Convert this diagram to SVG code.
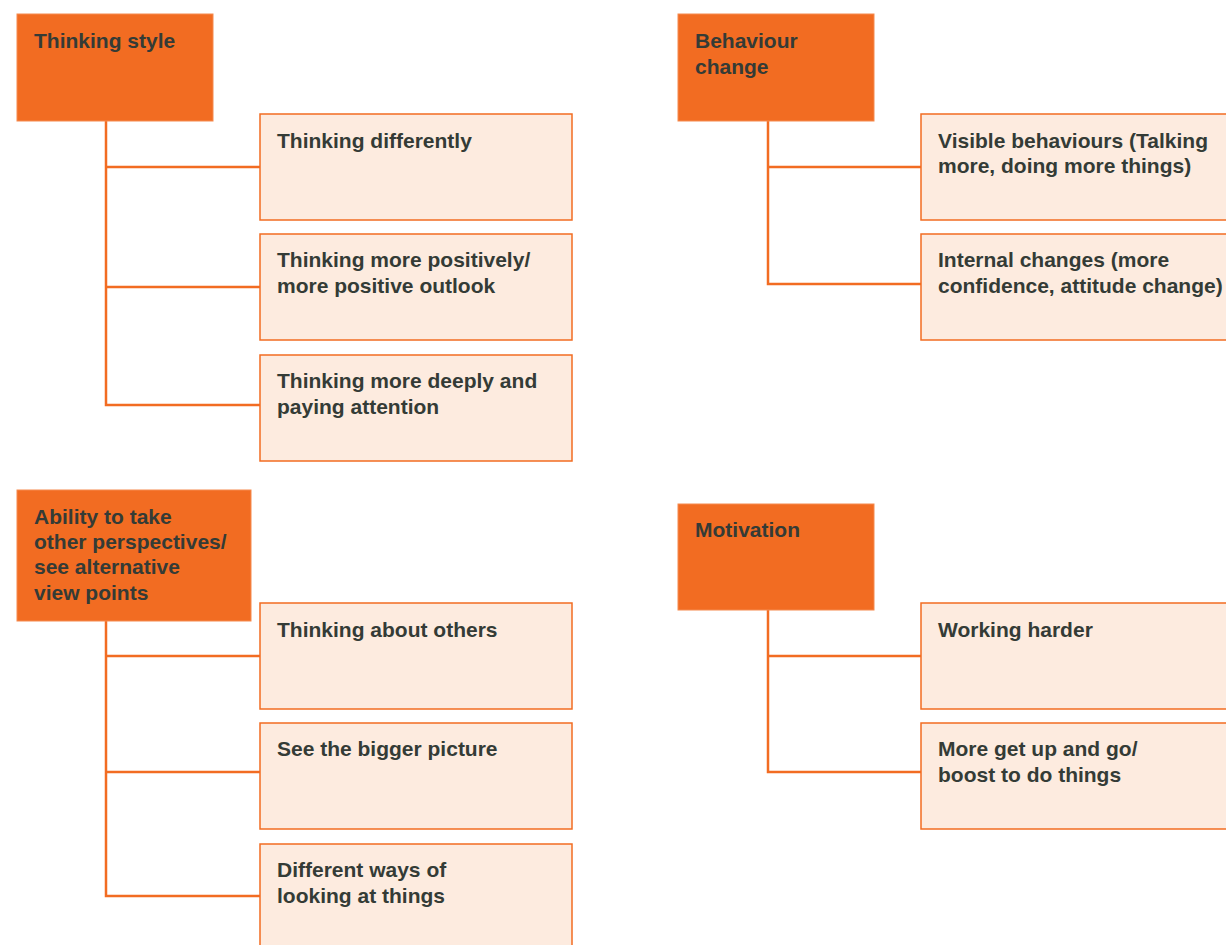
<svg xmlns="http://www.w3.org/2000/svg" width="1226" height="945" viewBox="0 0 1226 945">
  <style>
    .head { fill: #F26C22; stroke: #F58A4E; stroke-width: 1; }
    .item { fill: #FDEBDF; stroke: #F26C22; stroke-width: 1.5; }
    .link { fill: none; stroke: #F26C22; stroke-width: 2.5; }
    text { font-family: "Liberation Sans", Arial, sans-serif; font-weight: bold; font-size: 21px; fill: #343b36; }
  </style>
  <rect width="1226" height="945" fill="#FFFFFF"/>

  <!-- tree connectors -->
  <g id="connectors">
    <path class="link" d="M106 121 V405 H260 M106 167 H260 M106 287 H260"/>
    <path class="link" d="M768 121 V284 H921 M768 167 H921"/>
    <path class="link" d="M106 621 V896 H260 M106 656 H260 M106 772 H260"/>
    <path class="link" d="M768 610 V772 H921 M768 656 H921"/>
  </g>

  <!-- Thinking style -->
  <g id="thinking-style">
    <rect class="head" x="17" y="14" width="196" height="107"/>
    <text x="34" y="48">Thinking style</text>
  </g>
  <g id="thinking-differently">
    <rect class="item" x="260" y="114" width="312" height="106"/>
    <text x="277" y="148">Thinking differently</text>
  </g>
  <g id="thinking-positively">
    <rect class="item" x="260" y="234" width="312" height="106"/>
    <text x="277" y="267">Thinking more positively/</text>
    <text x="277" y="293">more positive outlook</text>
  </g>
  <g id="thinking-deeply">
    <rect class="item" x="260" y="355" width="312" height="106"/>
    <text x="277" y="388">Thinking more deeply and</text>
    <text x="277" y="414">paying attention</text>
  </g>

  <!-- Behaviour change -->
  <g id="behaviour-change">
    <rect class="head" x="678" y="14" width="196" height="107"/>
    <text x="695" y="48">Behaviour</text>
    <text x="695" y="74">change</text>
  </g>
  <g id="visible-behaviours">
    <rect class="item" x="921" y="114" width="312" height="106"/>
    <text x="938" y="148">Visible behaviours (Talking</text>
    <text x="938" y="173">more, doing more things)</text>
  </g>
  <g id="internal-changes">
    <rect class="item" x="921" y="234" width="312" height="106"/>
    <text x="938" y="267">Internal changes (more</text>
    <text x="938" y="293">confidence, attitude change)</text>
  </g>

  <!-- Ability to take other perspectives -->
  <g id="perspectives">
    <rect class="head" x="17" y="490" width="234" height="131"/>
    <text x="34" y="524">Ability to take</text>
    <text x="34" y="549">other perspectives/</text>
    <text x="34" y="574">see alternative</text>
    <text x="34" y="600">view points</text>
  </g>
  <g id="thinking-about-others">
    <rect class="item" x="260" y="603" width="312" height="106"/>
    <text x="277" y="637">Thinking about others</text>
  </g>
  <g id="bigger-picture">
    <rect class="item" x="260" y="723" width="312" height="106"/>
    <text x="277" y="756">See the bigger picture</text>
  </g>
  <g id="different-ways">
    <rect class="item" x="260" y="844" width="312" height="106"/>
    <text x="277" y="877">Different ways of</text>
    <text x="277" y="903">looking at things</text>
  </g>

  <!-- Motivation -->
  <g id="motivation">
    <rect class="head" x="678" y="504" width="196" height="106"/>
    <text x="695" y="537">Motivation</text>
  </g>
  <g id="working-harder">
    <rect class="item" x="921" y="603" width="312" height="106"/>
    <text x="938" y="637">Working harder</text>
  </g>
  <g id="get-up-and-go">
    <rect class="item" x="921" y="723" width="312" height="106"/>
    <text x="938" y="756">More get up and go/</text>
    <text x="938" y="782">boost to do things</text>
  </g>
</svg>
